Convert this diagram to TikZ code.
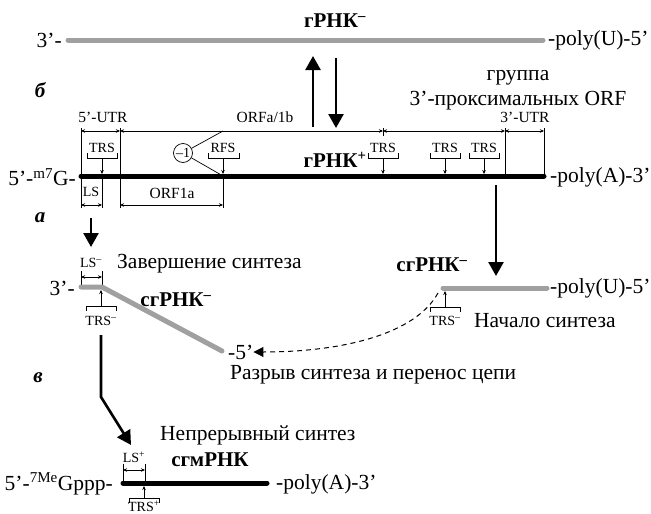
\documentclass[tikz,border=0pt]{standalone}
\usepackage{fontspec}
\setmainfont{Liberation Serif}
\usetikzlibrary{arrows.meta}
\definecolor{rnagray}{HTML}{A0A0A0}
\begin{document}
\begin{tikzpicture}[x=1pt,y=-1pt,
  lbl/.style={font=\fontsize{21.5}{25}\selectfont, inner sep=0pt},
  blbl/.style={font=\fontsize{21}{25}\selectfont\bfseries, inner sep=0pt},
  sml/.style={font=\fontsize{15.5}{17}\selectfont, inner sep=0pt},
  smlab/.style={font=\fontsize{14}{16}\selectfont, inner sep=0pt},
  panel/.style={font=\fontsize{21}{24}\selectfont\bfseries\itshape, inner sep=0pt},
  grayrna/.style={line width=5pt, line cap=round, draw=rnagray},
  blackrna/.style={line width=5pt, line cap=round, draw=black},
  dimline/.style={line width=0.7pt, {Stealth[length=4pt,width=3.5pt]}-{Stealth[length=4pt,width=3.5pt]}},
  hair/.style={line width=0.7pt},
  trsarrow/.style={line width=0.7pt, -{Stealth[length=4pt,width=3.5pt]}},
  bigarrow/.style={line width=2.6pt, -{Triangle[length=14pt,width=15pt]}},
]
\useasboundingbox (0,0) rectangle (651,514);

% ---------- top: gRNA- ----------
\coordinate (gmL) at (68,40);
\coordinate (gmR) at (543,40);
\draw[grayrna] (gmL) -- (gmR);
\node[lbl, anchor=east] (gm3) at (62,40) {3’-};
\node[lbl, anchor=west] (gm5) at (548,40) {-poly(U)-5’};
\node[blbl] (gmname) at (335,21) {гРНК\textsuperscript{–}};

% vertical arrows between gRNA- and gRNA+
\coordinate (upS) at (313,127);
\coordinate (upE) at (313,56);
\coordinate (dnS) at (336,58);
\coordinate (dnE) at (336,128);
\draw[bigarrow] (upS) -- (upE);
\draw[bigarrow] (dnS) -- (dnE);

\node[lbl] (grp1) at (518,78) {группа};
\node[lbl] (grp2) at (518,101) {3’-проксимальных ORF};
\node[panel] (pb) at (40,90) {б};

% ---------- gRNA+ ----------
\coordinate (gpL) at (81,176);
\coordinate (gpR) at (544,176);

% extension lines
\draw[hair] (81,128) -- (81,208);
\draw[hair] (120,128) -- (120,208);
\draw[hair] (102,176) -- (102,208);
\draw[hair] (223,176) -- (223,208);
\draw[hair] (383,128) -- (383,136);
\draw[hair] (505,128) -- (505,176);
\draw[hair] (544,128) -- (544,176);

\draw[blackrna] (gpL) -- (gpR);
\node[lbl, anchor=east] (gp5) at (76,177) {5’-\textsuperscript{m7}G-};
\node[lbl, anchor=west] (gp3) at (550,177) {-poly(A)-3’};
\node[blbl] (gpname) at (335,160) {гРНК\textsuperscript{+}};

% upper dimensions
\coordinate (d1) at (81,131);
\coordinate (d2) at (120,131);
\coordinate (d3) at (383,131);
\coordinate (d4) at (505,131);
\coordinate (d5) at (544,131);
\draw[dimline] (d1) -- (d2);
\draw[dimline] (d2) -- (d3);
\draw[dimline] (d3) -- (d4);
\draw[dimline] (d4) -- (d5);
\node[sml] (utr5) at (103,117) {5’-UTR};
\node[sml] (orfab) at (265,117) {ORFa/1b};
\node[sml] (utr3) at (525,117) {3’-UTR};

% lower dimensions
\draw[dimline] (81,205) -- (102,205);
\draw[dimline] (120,205) -- (223,205);
\node[smlab] (ls) at (91,192) {LS};
\node[sml] (orf1a) at (172,193) {ORF1a};

% TRS markers on gRNA+
\foreach \cx/\nm in {102/t1,383/t2,445/t3,484/t4}{
  \draw[hair] (\cx-15,153) -- (\cx-15,158) -- (\cx+15,158) -- (\cx+15,153);
  \draw[trsarrow] (\cx,158) -- (\cx,174);
  \node[smlab] (\nm) at (\cx,148) {TRS};
}
% RFS
\draw[hair] (208,153) -- (208,158) -- (239,158) -- (239,153);
\draw[trsarrow] (223,158) -- (223,174);
\node[smlab] (rfs) at (223,148) {RFS};

% -1 frameshift
\node[draw, circle, line width=0.7pt, minimum size=19pt, inner sep=0pt, font=\fontsize{14}{16}\selectfont] (fs) at (183,153) {–1};
\coordinate (fsA) at (223,131);
\coordinate (fsB) at (223,176);
\draw[hair] (fs) -- (fsA);
\draw[hair] (fs) -- (fsB);

% ---------- panel a ----------
\node[panel] (pa) at (40,218) {а};
\draw[bigarrow] (91,218) -- (91,247);
\draw[bigarrow] (496,185) -- (496,276);

% left sgRNA-
\coordinate (lsA) at (81,287);
\coordinate (lsB) at (102,287);
\coordinate (lsC) at (222,351);
\draw[hair] (81,271) -- (81,286);
\draw[hair] (102,271) -- (102,286);
\draw[dimline] (81,277) -- (102,277);
\node[smlab] (lsm) at (91,263) {LS\textsuperscript{–}};
\draw[grayrna, line join=round] (lsA) -- (lsB) -- (lsC);
\node[lbl, anchor=east] (l3) at (75,288) {3’-};
\node[lbl, anchor=west] (l5) at (228,352) {-5’};
\node[lbl, anchor=west] (endsyn) at (117,264) {Завершение синтеза};
\node[blbl] (lname) at (176,300) {сгРНК\textsuperscript{–}};
\draw[hair] (86,311) -- (86,306) -- (116,306) -- (116,311);
\draw[trsarrow] (101,306) -- (101,290);
\node[smlab] (ltrs) at (101,321) {TRS\textsuperscript{–}};

% right sgRNA-
\coordinate (rsA) at (443,288);
\coordinate (rsB) at (547,288);
\draw[grayrna] (rsA) -- (rsB);
\node[lbl, anchor=west] (r5) at (550,288) {-poly(U)-5’};
\node[blbl] (rname) at (432,265) {сгРНК\textsuperscript{–}};
\draw[hair] (430,312) -- (430,307) -- (460,307) -- (460,312);
\draw[trsarrow] (445,307) -- (445,291);
\node[smlab] (rtrs) at (445,321) {TRS\textsuperscript{–}};
\node[lbl, anchor=west] (startsyn) at (474,321) {Начало синтеза};

% template switch
\coordinate (swS) at (438,293);
\draw[line width=1pt, dash pattern=on 5pt off 4pt, -{Triangle[length=10pt,width=10pt]}]
  (swS) .. controls (415,335) and (340,352) .. (l5.east);
\node[lbl, anchor=west] (brk) at (230,375) {Разрыв синтеза и перенос цепи};

% ---------- panel v ----------
\node[panel] (pv) at (38,378) {в};
\coordinate (bA) at (101,335);
\coordinate (bB) at (101,397);
\coordinate (bC) at (131,445);
\draw[bigarrow, line join=miter] (bA) -- (bB) -- (bC);
\node[lbl, anchor=west] (cont) at (160,435) {Непрерывный синтез};

\coordinate (mA) at (123,483);
\coordinate (mB) at (267,483);
\draw[hair] (123,464) -- (123,482);
\draw[hair] (145,464) -- (145,482);
\draw[dimline] (123,470) -- (145,470);
\node[smlab] (lsp) at (134,457) {LS\textsuperscript{+}};
\draw[blackrna] (mA) -- (mB);
\node[lbl, anchor=east] (m5) at (113,484) {5’-\textsuperscript{7Me}Gppp-};
\node[lbl, anchor=west] (m3) at (276,484) {-poly(A)-3’};
\node[blbl] (mname) at (210,460) {сгмРНК};
\draw[hair] (129,503) -- (129,498) -- (159,498) -- (159,503);
\draw[trsarrow] (144,498) -- (144,486);
\node[smlab, anchor=north] (mtrs) at (144,501) {TRS\textsuperscript{+}};
\end{tikzpicture}
\end{document}
